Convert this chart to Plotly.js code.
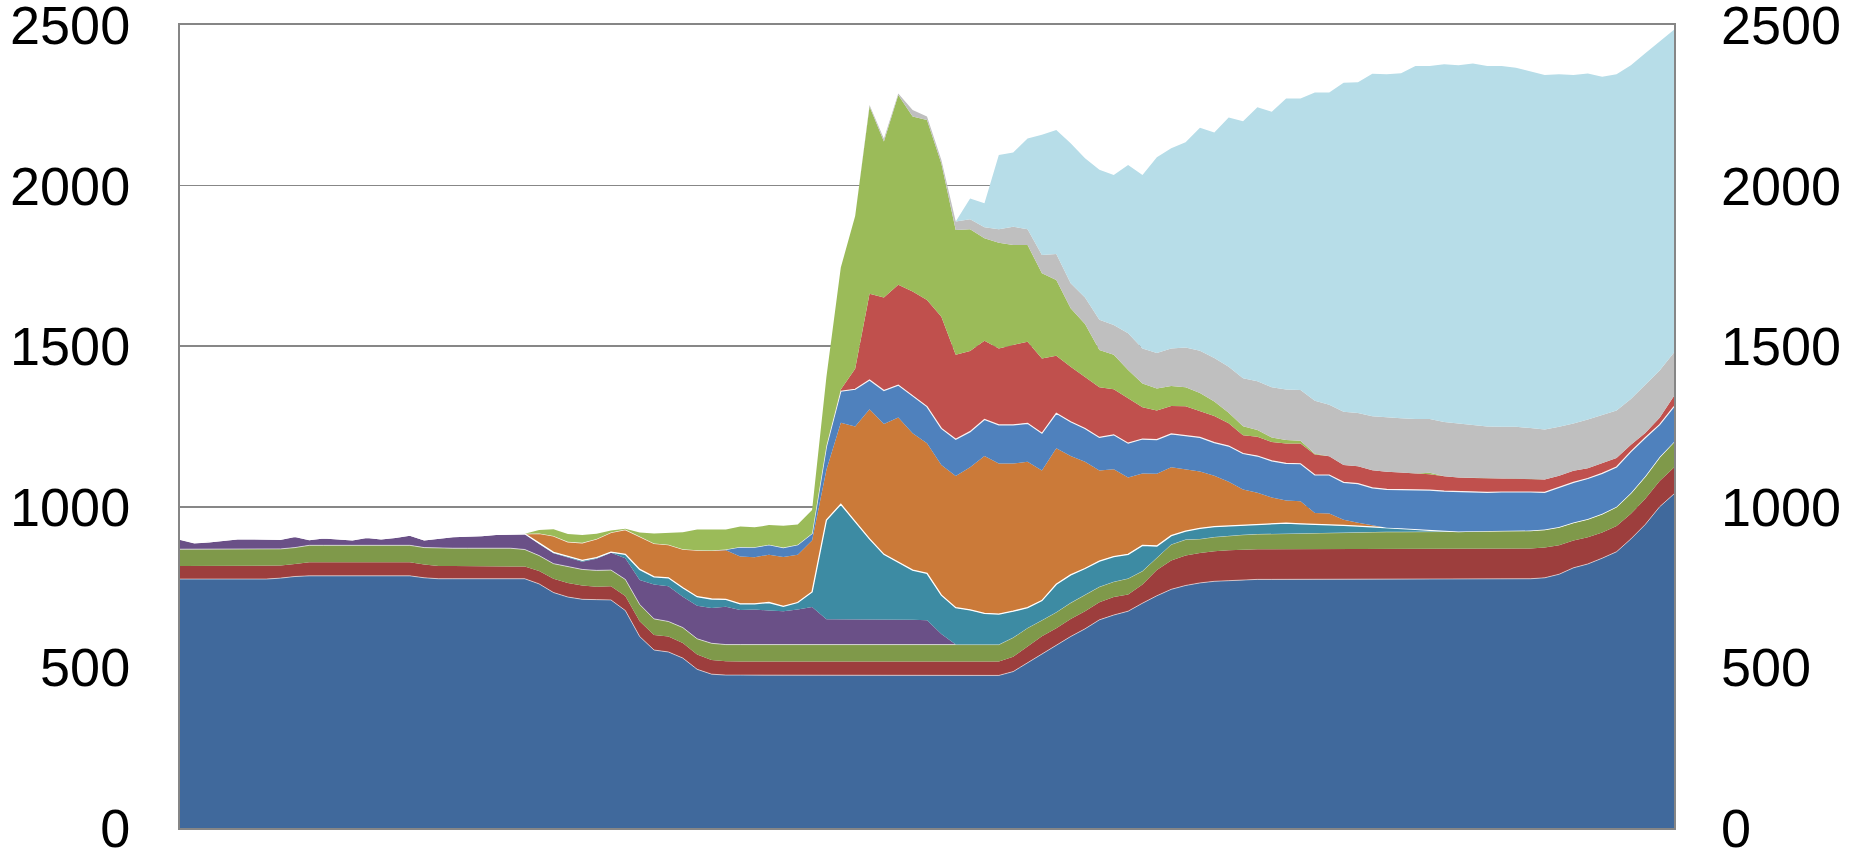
<!DOCTYPE html>
<html>
<head>
<meta charset="utf-8">
<script src="https://cdn.plot.ly/plotly-3.0.1.min.js"></script>
<style>
  html, body { margin: 0; padding: 0; background: #ffffff; }
  #chart { width: 1859px; height: 850px; }
</style>
</head>
<body>
<div id="chart"></div>
<script>
// Two-weekly samples (stack order bottom -> top)
const base = [
  775,775,775,775,775,775,775,778,783,785,
  785,785,785,785,785,785,785,779,776,776,
  776,776,776,776,776,760,733,719,712,711,
  710,677,596,554,548,529,494,479,476,476,
  476,476,475,475,475,475,475,475,475,475,
  475,475,475,475,475,475,475,475,487,514,
  540,568,596,620,648,663,675,700,723,743,
  755,763,768,770,773,774,774,774,774,774,
  774,774,774,774,774,774,774,774,774,774,
  774,774,774,774,776,779,790,810,822,840,
  860,900,945,1000,1040];
const darkRed = [
  41,41,41,41,41,41,41,39,39,42,
  42,42,42,42,42,42,42,41,40,40,
  40,40,40,40,38,40,43,44,43,40,
  43,45,48,47,48,47,46,44,43,42,
  42,42,43,43,43,43,43,43,43,43,
  43,43,43,43,43,43,43,43,46,52,
  57,54,55,55,55,56,52,58,80,90,
  93,93,94,95,94,94,94,94,94,94,
  94,94,94,94,94,94,94,94,94,94,
  94,94,94,94,94,94,90,85,83,80,
  80,78,80,80,82];
const olive = [
  52,52,52,52,52,52,52,52,51,53,
  53,53,53,53,53,53,53,53,55,55,
  55,55,55,55,53,48,47,50,50,51,
  50,52,52,50,47,48,49,52,52,53,
  53,53,53,53,53,53,53,53,53,53,
  53,53,53,53,53,53,53,53,60,57,
  50,50,50,50,48,48,50,42,40,50,
  50,44,44,45,46,47,48,49,50,51,
  52,52,53,53,54,54,55,55,55,55,
  56,56,57,57,56,56,57,56,57,58,
  60,65,70,75,80];
const purple = [
  31,20,23,27,32,32,32,30,35,18,
  23,21,17,25,20,25,32,24,32,36,
  38,39,43,45,49,36,32,29,24,36,
  54,66,76,107,110,96,103,110,118,108,
  109,106,104,109,117,79,79,77,77,77,
  77,77,76,33,0,0,0,0,0,0,
  0,0,0,0,0,0,0,0,0,0,
  0,0,0,0,0,0,0,0,0,0,
  0,0,0,0,0,0,0,0,0,0,
  0,0,0,0,0,0,0,0,0,0,
  0,0,0,0,0];
const teal = [
  0,0,0,0,0,0,0,0,0,0,
  0,0,0,0,0,0,0,0,0,0,
  0,0,0,0,0,3,3,4,4,4,
  2,12,33,24,26,28,28,28,23,19,
  18,25,15,22,47,309,358,306,252,204,
  180,155,146,121,115,108,97,95,82,63,
  61,87,87,83,80,78,75,80,35,27,
  26,33,32,30,29,29,30,32,29,27,
  23,22,19,17,13,11,7,4,2,0,
  0,0,0,0,0,0,0,0,0,0,
  0,0,0,0,0];
const orange = [
  0,0,0,0,0,0,0,0,0,0,
  0,0,0,0,0,0,0,0,0,0,
  0,0,0,0,0,30,51,45,55,58,
  61,77,103,104,103,120,145,151,153,147,
  145,149,154,149,160,156,254,296,404,406,
  450,426,405,405,410,444,490,469,460,454,
  405,423,370,332,282,272,239,224,225,213,
  193,177,159,138,112,100,83,71,70,35,
  36,18,10,5,0,0,0,0,0,0,
  0,0,0,0,0,0,0,0,0,0,
  0,0,0,0,0];
const blue = [
  0,0,0,0,0,0,0,0,0,0,
  0,0,0,0,0,0,0,0,0,0,
  0,0,0,0,0,0,0,0,0,0,
  0,0,0,0,0,0,0,0,2,30,
  31,31,29,31,22,73,98,116,91,104,
  101,116,114,114,114,111,114,120,120,120,
  116,109,107,104,103,107,107,107,106,104,
  105,106,103,111,112,114,114,115,117,118,
  120,116,122,116,119,121,124,125,124,124,
  122,121,121,122,120,116,124,125,126,126,
  124,129,120,101,110];
const red = [
  0,0,0,0,0,0,0,0,0,0,
  0,0,0,0,0,0,0,0,0,0,
  0,0,0,0,0,0,0,0,0,0,
  0,0,0,0,0,0,0,0,0,0,
  0,0,0,0,0,2,5,64,268,290,
  312,325,332,348,263,251,245,238,249,254,
  233,179,171,161,156,142,140,99,91,87,
  91,82,83,71,57,60,59,62,63,64,
  58,54,54,55,55,53,50,49,46,44,
  44,43,42,41,40,40,36,36,32,31,
  28,21,15,21,33];
const green = [
  0,0,0,0,0,0,0,0,0,0,
  0,0,0,0,0,0,0,0,0,0,
  0,0,0,0,0,11,21,24,24,16,
  6,3,12,31,36,53,64,64,62,64,
  62,61,68,63,73,215,380,475,583,485,
  591,545,560,477,389,379,319,329,311,301,
  265,236,182,164,116,107,88,74,68,62,
  59,56,45,33,28,21,14,11,9,2,
  0,0,0,0,0,0,0,5,0,0,
  0,0,0,0,0,0,0,0,0,0,
  0,0,0,0,0];
const gray = [
  0,0,0,0,0,0,0,0,0,0,
  0,0,0,0,0,0,0,0,0,0,
  0,0,0,0,0,0,0,0,0,0,
  0,0,0,0,0,0,0,0,0,0,
  0,0,0,0,0,0,0,0,5,9,
  5,20,11,11,26,31,34,42,57,49,
  57,81,78,83,94,93,114,109,111,117,
  124,132,135,143,149,152,156,157,158,165,
  161,166,166,168,169,169,169,167,169,168,
  165,162,161,161,159,156,152,147,152,151,
  148,143,150,147,135];
const lightBlue = [
  0,0,0,0,0,0,0,0,0,0,
  0,0,0,0,0,0,0,0,0,0,
  0,0,0,0,0,0,0,0,0,0,
  0,0,0,0,0,0,0,0,0,0,
  0,0,0,0,0,0,0,0,0,0,
  0,0,0,0,0,65,75,231,231,283,
  374,386,436,433,467,467,524,540,609,623,
  639,694,702,776,800,853,858,906,907,960,
  972,1024,1030,1066,1069,1074,1099,1099,1114,1116,
  1125,1122,1123,1118,1110,1103,1098,1085,1077,1053,
  1047,1039,1032,1026,1005];

const yTicks = [0, 500, 1000, 1500, 2000, 2500];
const yTickText = ['0', '500', '1000', '1500', '2000', '2500'];

const period = base.map((_, i) => i);

const series = [
  {name: 'base',      y: base,      color: '#40699C', line: 'rgba(255,255,255,0.55)', lw: 1},
  {name: 'darkRed',   y: darkRed,   color: '#9D3E3D', line: null, lw: 0},
  {name: 'olive',     y: olive,     color: '#7F994A', line: 'rgba(255,255,255,0.6)', lw: 1},
  {name: 'purple',    y: purple,    color: '#6A5087', line: null, lw: 0},
  {name: 'teal',      y: teal,      color: '#3D8BA3', line: '#ffffff', lw: 1.3},
  {name: 'orange',    y: orange,    color: '#CB7A39', line: null, lw: 0},
  {name: 'blue',      y: blue,      color: '#4F81BD', line: 'rgba(255,255,255,0.9)', lw: 1.2},
  {name: 'red',       y: red,       color: '#C0504D', line: null, lw: 0},
  {name: 'green',     y: green,     color: '#9BBB59', line: null, lw: 0},
  {name: 'gray',      y: gray,      color: '#BFBFBF', line: null, lw: 0},
  {name: 'lightBlue', y: lightBlue, color: '#B7DDE8', line: null, lw: 0}
];

const traces = series.map(s => ({
  type: 'scatter',
  mode: 'lines',
  x: period,
  y: s.y,
  name: s.name,
  stackgroup: 'one',
  fillcolor: s.color,
  line: {width: s.lw, color: s.line || s.color, shape: 'linear'},
  hoverinfo: 'skip',
  showlegend: false
}));

// invisible trace to carry the right-hand axis
traces.push({
  type: 'scatter', mode: 'lines', x: [0, period.length - 1], y: [0, 0],
  yaxis: 'y2', line: {width: 0}, hoverinfo: 'skip', showlegend: false
});

const tickFont = {family: 'Liberation Sans, Arial, sans-serif', size: 54, color: '#000000'};

const layout = {
  width: 1859, height: 850,
  margin: {l: 180, r: 185, t: 25, b: 22, pad: 0},
  paper_bgcolor: '#ffffff', plot_bgcolor: '#ffffff',
  showlegend: false,
  xaxis: {
    range: [0, period.length - 1],
    showgrid: false, zeroline: false, showticklabels: false, ticks: '',
    showline: true, linecolor: '#868686', linewidth: 2, mirror: true,
    fixedrange: true
  },
  yaxis: {
    range: [0, 2500],
    tickvals: yTicks, ticktext: yTickText,
    showgrid: true, gridcolor: '#878787', gridwidth: 1.5,
    zeroline: false, ticks: '',
    showline: true, linecolor: '#868686', linewidth: 2, mirror: true,
    tickfont: tickFont, ticklabelstandoff: 37, ticklabeloverflow: 'allow',
    layer: 'above traces', fixedrange: true
  },
  yaxis2: {
    range: [0, 2500], overlaying: 'y', side: 'right',
    tickvals: yTicks, ticktext: yTickText,
    showgrid: false, zeroline: false, ticks: '', showline: false,
    tickfont: tickFont, ticklabelstandoff: 46, ticklabeloverflow: 'allow',
    fixedrange: true
  }
};

Plotly.newPlot('chart', traces, layout, {displayModeBar: false, staticPlot: true});
</script>
</body>
</html>
